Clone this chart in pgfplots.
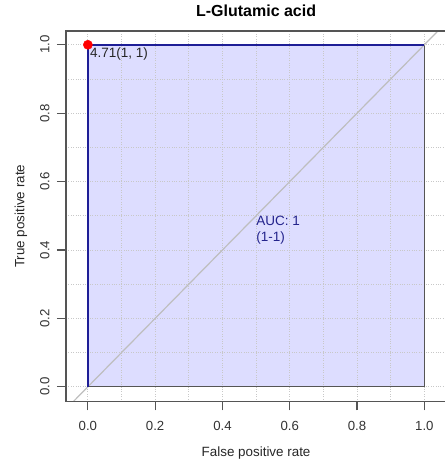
\documentclass[border=0pt]{standalone}
\usepackage{fontspec}
\setmainfont{Liberation Sans}
\usepackage{pgfplots}
\pgfplotsset{compat=1.18}
\definecolor{rocfill}{RGB}{221,221,255}
\definecolor{rocline}{RGB}{30,30,150}
\definecolor{axgray}{RGB}{85,85,85}
\definecolor{gridgray}{RGB}{200,200,200}
\definecolor{diaggray}{RGB}{190,190,190}
\definecolor{auctext}{RGB}{35,35,140}
\begin{document}
\begin{tikzpicture}
\begin{axis}[
  set layers,
  scale only axis,
  width=380.2pt, height=370.4pt,
  xmin=-0.065, xmax=1.065, ymin=-0.043, ymax=1.04,
  xtick={0,0.2,0.4,0.6,0.8,1},
  ytick={0,0.2,0.4,0.6,0.8,1},
  minor xtick={0.1,0.3,0.5,0.7,0.9},
  minor ytick={0.1,0.3,0.5,0.7,0.9},
  grid=both,
  major grid style={gridgray, dotted, line width=0.9pt},
  minor grid style={gridgray, dotted, line width=0.9pt},
  minor tick length=0pt,
  major tick length=9pt,
  tick align=outside,
  xtick pos=left, ytick pos=left,
  axis line style={draw=axgray, line width=1.2pt},
  every tick/.style={draw=axgray, line width=1.2pt},
  tick label style={font=\fontsize{13.2}{15}\selectfont, text=black!80},
  /pgf/number format/assume math mode=true,
  /pgf/number format/fixed,
  /pgf/number format/fixed zerofill,
  /pgf/number format/precision=1,
  xticklabel style={yshift=-7pt},
  yticklabel style={rotate=90, anchor=south, yshift=4pt},
  xlabel={False positive rate},
  ylabel={True positive rate},
  label style={font=\fontsize{13.4}{15}\selectfont, text=black!85},
  xlabel style={at={(axis description cs:0.5,0)}, anchor=center, yshift=-51.5pt},
  ylabel style={at={(axis description cs:0,0.5)}, anchor=center, yshift=45pt},
  title={L-Glutamic acid},
  title style={at={(axis description cs:0.5,1)}, anchor=base, yshift=9pt, font=\bfseries\fontsize{16}{19}\selectfont},
]
\addplot[on layer=axis background, fill=rocfill, draw=none] coordinates {(0,0) (0,1) (1,1) (1,0) (0,0)};
\addplot[axgray, line width=1pt] coordinates {(0,0) (1,0) (1,1)};
\addplot[diaggray, line width=1.2pt] coordinates {(-0.1,-0.1) (1.1,1.1)};
\addplot[rocline, line width=2pt] coordinates {(0,0) (0,1) (1,1)};
\addplot[only marks, mark=*, mark size=4.6pt, red] coordinates {(0,1)};
\node[anchor=north west, inner sep=0pt, font=\fontsize{13.5}{16}\selectfont, text=black!85, xshift=2pt, yshift=-2.5pt] at (axis cs:0,1) {4.71(1, 1)};
\node[anchor=north west, inner sep=0pt, align=left, text=auctext, font=\fontsize{13.5}{16.5}\selectfont] at (axis cs:0.5,0.5) {AUC: 1\\(1-1)};
\draw[on layer=axis foreground, axgray, line width=1.2pt] (rel axis cs:0,0) rectangle (rel axis cs:1,1);
\end{axis}
\pgfresetboundingbox
\path[use as bounding box] (-66pt,-66.5pt) rectangle (378pt,401.5pt);
\end{tikzpicture}
\end{document}
